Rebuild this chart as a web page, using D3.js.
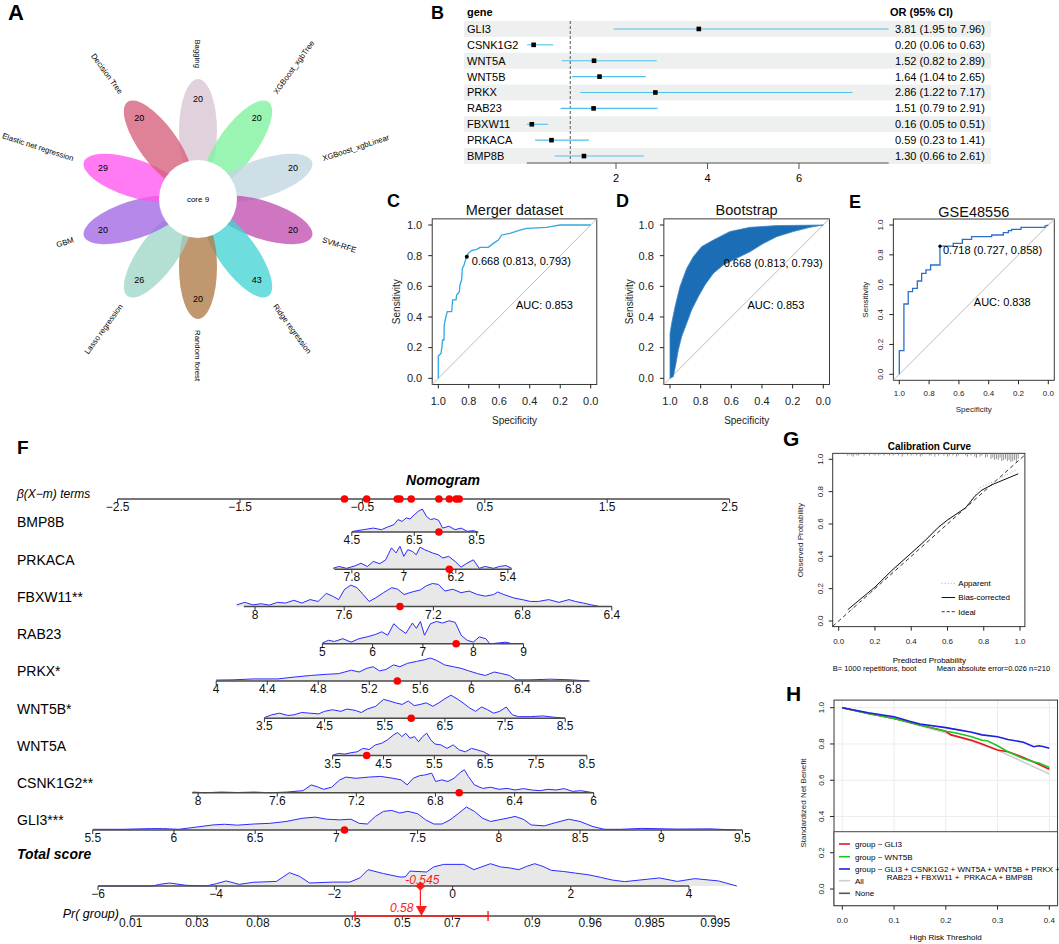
<!DOCTYPE html>
<html>
<head>
<meta charset="utf-8">
<script src="https://cdn.jsdelivr.net/npm/d3@7"></script>
<style>
  body { margin: 0; background: #fff; }
  svg text { font-family: "Liberation Sans", Arial, Helvetica, sans-serif; }
</style>
</head>
<body>
<script>
// ---------- data ----------
// A: flower plot
const flowerSets = ['Bagging', 'XGBoost_xgbTree', 'XGBoost_xgbLinear', 'SVM-RFE', 'Ridge regression',
  'Random forest', 'Lasso regression', 'GBM', 'Elastic net regression', 'Decision Tree'];
const flowerCounts = [20, 20, 20, 20, 43, 20, 26, 20, 29, 20];
const coreCount = 9;
const petalColors = ['#d8c4d4', '#7ef29e', '#c0d6e0', '#c24fb2', '#44d4d4', '#b07a48', '#9ed6c8', '#a266e4', '#ff55ef', '#d65f7a'];

// B: forest plot
const forestGenes = ['GLI3', 'CSNK1G2', 'WNT5A', 'WNT5B', 'PRKX', 'RAB23', 'FBXW11', 'PRKACA', 'BMP8B'];
const forestOR = [3.81, 0.20, 1.52, 1.64, 2.86, 1.51, 0.16, 0.59, 1.30];
const forestLo = [1.95, 0.06, 0.82, 1.04, 1.22, 0.79, 0.05, 0.23, 0.66];
const forestHi = [7.96, 0.63, 2.89, 2.65, 7.17, 2.91, 0.51, 1.41, 2.61];
const forestTicks = [2, 4, 6];

// C/D/E: ROC curves (specificity, sensitivity)
const rocTicks = [0, 0.2, 0.4, 0.6, 0.8, 1];
const mergerRoc = [[1, 0], [1, 0.146], [0.982, 0.163], [0.976, 0.207], [0.972, 0.25], [0.963, 0.25],
  [0.961, 0.348], [0.95, 0.402], [0.941, 0.435], [0.912, 0.435], [0.906, 0.511], [0.884, 0.511],
  [0.88, 0.543], [0.862, 0.565], [0.858, 0.609], [0.847, 0.641], [0.842, 0.717], [0.831, 0.739],
  [0.825, 0.761], [0.813, 0.793], [0.803, 0.815], [0.781, 0.833], [0.748, 0.841], [0.726, 0.854],
  [0.672, 0.854], [0.639, 0.88], [0.606, 0.902], [0.584, 0.935], [0.53, 0.946], [0.464, 0.967],
  [0.42, 0.978], [0.289, 0.985], [0.245, 0.993], [0.201, 1], [0, 1]];
const mergerBest = [0.813, 0.793];
const bootUpper = [[1, 0.29], [0.989, 0.359], [0.967, 0.467], [0.935, 0.598], [0.891, 0.717], [0.848, 0.793],
  [0.793, 0.859], [0.717, 0.902], [0.609, 0.957], [0.478, 0.985], [0.304, 0.996], [0, 1]];
const bootLower = [[1, 0], [0.978, 0.011], [0.961, 0.098], [0.946, 0.185], [0.924, 0.272], [0.891, 0.359],
  [0.859, 0.446], [0.815, 0.533], [0.772, 0.609], [0.717, 0.685], [0.652, 0.739], [0.565, 0.783],
  [0.478, 0.826], [0.391, 0.88], [0.304, 0.924], [0.196, 0.957], [0.087, 0.985], [0, 1]];
const gseRoc = [[1, 0], [1, 0.158], [0.969, 0.158], [0.969, 0.471], [0.94, 0.471], [0.94, 0.554],
  [0.911, 0.554], [0.911, 0.576], [0.879, 0.576], [0.879, 0.625], [0.85, 0.625], [0.85, 0.676],
  [0.821, 0.676], [0.821, 0.699], [0.79, 0.699], [0.79, 0.732], [0.727, 0.732], [0.727, 0.858],
  [0.638, 0.858], [0.638, 0.877], [0.577, 0.877], [0.577, 0.904], [0.515, 0.904], [0.515, 0.922],
  [0.38, 0.922], [0.38, 0.933], [0.302, 0.933], [0.302, 0.949], [0.268, 0.949], [0.268, 0.962],
  [0.246, 0.962], [0.246, 0.971], [0.183, 0.971], [0.183, 0.984], [0.022, 0.984], [0.022, 0.993], [0, 1]];
const gseBest = [0.727, 0.858];

// F: nomogram
const nomoGenes = ['BMP8B', 'PRKACA', 'FBXW11**', 'RAB23', 'PRKX*', 'WNT5B*', 'WNT5A', 'CSNK1G2**', 'GLI3***'];
const nomoBeta = [0.255, -0.531, -1.822, 0.411, 1.042, 0.4915, 0.4155, -1.616, 1.327];
const nomoMean = [6.80, 6.696, 7.244, 7.013, 5.626, 6.146, 5.289, 6.86, 7.537];
const nomoRange = [[4.5, 8.55], [8.07, 5.34], [8.05, 6.4], [5, 9], [4, 6.92], [3.5, 8.5], [3.5, 8.5], [8.03, 6], [5.5, 9.5]];
const nomoTicks = [[4.5, 6.5, 8.5], [7.8, 7, 6.2, 5.4], [8, 7.6, 7.2, 6.8, 6.4], [5, 6, 7, 8, 9],
  [4, 4.4, 4.8, 5.2, 5.6, 6, 6.4, 6.8], [3.5, 4.5, 5.5, 6.5, 7.5, 8.5], [3.5, 4.5, 5.5, 6.5, 7.5, 8.5],
  [8, 7.6, 7.2, 6.8, 6.4, 6], [5.5, 6, 6.5, 7, 7.5, 8, 8.5, 9, 9.5]];
const nomoPatient = [7.29, 6.30, 7.35, 7.66, 5.42, 5.94, 4.17, 6.68, 7.05];
const betaTicks = [-2.5, -1.5, -0.5, 0.5, 1.5, 2.5];
const nomoDensity = [
  [[4.5, 0], [4.54, .03], [4.87, .1], [5.19, .17], [5.45, .1], [5.65, .22], [5.85, .32], [5.98, .54], [6.11, .46],
   [6.24, .61], [6.37, .57], [6.5, .75], [6.63, .9], [6.76, 1], [6.89, .68], [7.02, .54], [7.15, .58], [7.28, .51],
   [7.41, .17], [7.61, .25], [7.81, .1], [8.0, .17], [8.2, .03], [8.4, .06], [8.53, 0]],
  [[8.09, .04], [8.0, .12], [7.88, .04], [7.75, .15], [7.66, .26], [7.56, .12], [7.47, .34], [7.37, .24], [7.28, .41],
   [7.19, .93], [7.12, .71], [7.06, 1], [7.0, .56], [6.94, .85], [6.87, .78], [6.81, .63], [6.75, .96], [6.68, .85],
   [6.62, .78], [6.56, .71], [6.47, .63], [6.4, .49], [6.31, .56], [6.21, .34], [6.12, .09], [6.03, .26], [5.93, .41],
   [5.84, .04], [5.75, .12], [5.62, .04], [5.53, .12], [5.43, .16], [5.34, .04]],
  [[8.082, .07], [8.046, .18], [8.009, .07], [7.973, .12], [7.936, .06], [7.899, .18], [7.863, .15], [7.826, .27],
   [7.79, .15], [7.753, .3], [7.717, .22], [7.68, .57], [7.652, .45], [7.625, .3], [7.598, .75], [7.57, .93],
   [7.543, .82], [7.515, .52], [7.488, .22], [7.46, .37], [7.424, .6], [7.387, .82], [7.36, .75], [7.332, .52],
   [7.296, .63], [7.259, .72], [7.232, .9], [7.204, 1], [7.177, .96], [7.149, .67], [7.113, .75], [7.076, .6],
   [7.04, .67], [7.003, .52], [6.967, .45], [6.93, .52], [6.912, .63], [6.884, .52], [6.839, .37], [6.802, .3],
   [6.765, .22], [6.729, .22], [6.683, .3], [6.637, .18], [6.592, .3], [6.564, .22], [6.528, .15], [6.491, .07], [6.455, 0]],
  [[5.0, .03], [5.12, .15], [5.24, .1], [5.41, .22], [5.57, .07], [5.73, .22], [5.89, .3], [6.05, .4], [6.18, .52],
   [6.3, .37], [6.42, .87], [6.54, .63], [6.66, .45], [6.79, .9], [6.87, .67], [6.95, .97], [7.03, .37], [7.15, .87],
   [7.27, .97], [7.39, .9], [7.52, 1], [7.64, .93], [7.76, .37], [7.88, .15], [8.0, .07], [8.12, .3], [8.25, .22],
   [8.33, 0], [8.49, .03], [8.65, .07], [8.77, 0]],
  [[4.0, .04], [4.13, .05], [4.29, .09], [4.48, .09], [4.61, .17], [4.74, .24], [4.86, .29], [4.96, .32], [5.06, .47],
   [5.12, .39], [5.18, .55], [5.23, .62], [5.28, .44], [5.33, .5], [5.39, .7], [5.44, .62], [5.5, .77], [5.57, .85],
   [5.63, .92], [5.68, 1], [5.73, .89], [5.79, .7], [5.86, .62], [5.92, .55], [5.98, .44], [6.05, .32], [6.11, .24],
   [6.18, .39], [6.24, .32], [6.3, .24], [6.35, .05], [6.46, .05], [6.62, .08], [6.78, .05], [6.93, 0]],
  [[3.5, .03], [3.62, .15], [3.75, .22], [3.89, .12], [3.99, .15], [4.12, .25], [4.26, .22], [4.4, .19], [4.5, .3],
   [4.63, .37], [4.77, .3], [4.87, .4], [5.01, .34], [5.11, .25], [5.21, .4], [5.35, .52], [5.48, .82], [5.58, .75],
   [5.68, .67], [5.79, .6], [5.89, .75], [5.99, .55], [6.09, .6], [6.19, .67], [6.3, .52], [6.4, .67], [6.5, .85],
   [6.6, 1], [6.7, .85], [6.8, .67], [6.91, .45], [7.01, .3], [7.11, .49], [7.21, .37], [7.31, .22], [7.41, .3],
   [7.52, .49], [7.62, .15], [7.72, .07], [7.92, .07], [8.13, .1], [8.33, .04], [8.5, 0]],
  [[3.5, .01], [3.62, .09], [3.74, .06], [3.86, .12], [3.98, .16], [4.1, .31], [4.22, .26], [4.34, .46], [4.46, .53],
   [4.58, .68], [4.7, .9], [4.78, 1], [4.86, .82], [4.94, .97], [5.02, .75], [5.11, .82], [5.19, .6], [5.27, .82],
   [5.35, .97], [5.43, .68], [5.51, .5], [5.63, .46], [5.75, .31], [5.87, .46], [5.99, .24], [6.11, .16], [6.23, .31],
   [6.35, .24], [6.47, .16], [6.59, .01]],
  [[8.027, .03], [7.965, 0], [7.882, .03], [7.8, .01], [7.717, .03], [7.635, 0], [7.552, .03], [7.47, .09],
   [7.428, .34], [7.397, .26], [7.366, .15], [7.325, .24], [7.284, .56], [7.253, .68], [7.201, .63], [7.139, .68],
   [7.077, .71], [7.015, .63], [6.974, .56], [6.943, .34], [6.912, .63], [6.881, .74], [6.85, .78], [6.819, .85],
   [6.799, .49], [6.768, .56], [6.737, .49], [6.706, .63], [6.675, .88], [6.654, 1], [6.634, .71], [6.603, .34],
   [6.561, .19], [6.52, .24], [6.479, .15], [6.438, .19], [6.396, .12], [6.355, .18], [6.314, .12], [6.272, .09],
   [6.231, .15], [6.19, .12], [6.149, .18], [6.107, .06], [6.066, .09], [6.0, 0]],
  [[5.5, .03], [5.68, .03], [5.86, .06], [5.93, .06], [6.03, .03], [6.13, .12], [6.24, .22], [6.31, .25], [6.39, .21],
   [6.49, .26], [6.59, .29], [6.69, .37], [6.79, .51], [6.87, .56], [6.94, .47], [7.02, .44], [7.09, .47], [7.14, .29],
   [7.19, .26], [7.24, .59], [7.29, .81], [7.34, .85], [7.39, .74], [7.44, .81], [7.5, .71], [7.55, .44], [7.6, .26],
   [7.65, .26], [7.7, .44], [7.75, .71], [7.8, 1], [7.85, .81], [7.9, .51], [7.95, .37], [8.0, .44], [8.05, .51],
   [8.1, .59], [8.15, .47], [8.2, .22], [8.28, .18], [8.35, .32], [8.43, .47], [8.5, .37], [8.58, .15], [8.65, .03],
   [8.75, .03], [8.88, .07], [9.1, .04], [9.3, .05], [9.46, 0]]
];
const totalTicks = [-6, -4, -2, 0, 2, 4];
const totalDensity = [[-6, 0], [-5.08, 0], [-4.96, .07], [-4.79, .13], [-4.51, .03], [-4.17, 0], [-4.0, .1],
  [-3.83, .22], [-3.61, .07], [-3.38, .16], [-2.98, .2], [-2.76, .58], [-2.59, .42], [-2.42, .13], [-2.02, .17],
  [-1.74, .17], [-1.57, .35], [-1.43, .71], [-1.17, .54], [-0.89, .39], [-0.8, .4], [-0.72, .65], [-0.44, .61],
  [-0.32, .83], [-0.15, .94], [0.19, .94], [0.36, .71], [0.64, .97], [0.81, .83], [0.98, .78], [1.12, .71],
  [1.25, .85], [1.39, .97], [1.53, .85], [1.67, .68], [1.88, .63], [2.08, .56], [2.29, .49], [2.5, .38],
  [2.7, .26], [2.91, .19], [3.17, .26], [3.5, .35], [3.8, .2], [4.1, .32], [4.5, .22], [4.81, 0]];
const totalScore = -0.545;
const prOffset = 0.85;
const prTicks = [0.01, 0.03, 0.08, 0.3, 0.5, 0.7, 0.9, 0.96, 0.985, 0.995];
const prValue = 0.58;
const prCI = [0.31, 0.81];

// G: calibration
const calTicks = [0, 0.2, 0.4, 0.6, 0.8, 1];
const calApparent = [[0.05, 0.05], [0.2, 0.2], [0.3, 0.31], [0.4, 0.42], [0.5, 0.53], [0.6, 0.62], [0.7, 0.70],
  [0.78, 0.825], [0.85, 0.86], [0.99, 0.94]];
const calBias = [[0.05, 0.07], [0.2, 0.21], [0.3, 0.32], [0.4, 0.42], [0.47, 0.49], [0.55, 0.58], [0.6, 0.625],
  [0.7, 0.70], [0.75, 0.77], [0.79, 0.81], [0.85, 0.845], [0.99, 0.91]];
const calRug = [[0.05, 2], [0.06, 1], [0.07, 2], [0.08, 3], [0.09, 1], [0.10, 2], [0.11, 2], [0.12, 1], [0.14, 2],
  [0.15, 1], [0.17, 2], [0.19, 1], [0.20, 2], [0.22, 2], [0.23, 1], [0.25, 2], [0.27, 1], [0.28, 2], [0.30, 2],
  [0.31, 1], [0.33, 2], [0.35, 3], [0.36, 1], [0.38, 2], [0.40, 2], [0.41, 1], [0.43, 2], [0.45, 3], [0.46, 2],
  [0.48, 1], [0.50, 2], [0.51, 2], [0.53, 3], [0.55, 2], [0.56, 1], [0.58, 2], [0.60, 3], [0.61, 2], [0.63, 2],
  [0.65, 3], [0.66, 2], [0.68, 1], [0.70, 2], [0.71, 3], [0.73, 2], [0.75, 3], [0.76, 4], [0.78, 3], [0.79, 2],
  [0.81, 4], [0.82, 3], [0.84, 5], [0.85, 4], [0.86, 6], [0.87, 5], [0.88, 6], [0.89, 4], [0.90, 7], [0.91, 6],
  [0.92, 5], [0.93, 7], [0.94, 6], [0.95, 8], [0.96, 7], [0.97, 6], [0.98, 8], [0.99, 5]];

// H: decision curves
const dcaTicksX = [0, 0.1, 0.2, 0.3, 0.4];
const dcaTicksY = [0, 0.2, 0.4, 0.6, 0.8, 1];
const dcaGli3 = [[0, 1], [0.05, 0.968], [0.1, 0.94], [0.15, 0.905], [0.2, 0.87], [0.21, 0.85], [0.25, 0.82],
  [0.27, 0.80], [0.3, 0.767], [0.32, 0.757], [0.35, 0.726], [0.37, 0.70], [0.4, 0.66]];
const dcaWnt5b = [[0, 1], [0.05, 0.968], [0.1, 0.94], [0.15, 0.905], [0.2, 0.87], [0.22, 0.86], [0.25, 0.84],
  [0.27, 0.82], [0.28, 0.818], [0.3, 0.79], [0.32, 0.757], [0.35, 0.72], [0.37, 0.70], [0.38, 0.695], [0.4, 0.67]];
const dcaFull = [[0, 1], [0.05, 0.972], [0.1, 0.95], [0.13, 0.925], [0.15, 0.91], [0.2, 0.89], [0.23, 0.875],
  [0.25, 0.865], [0.27, 0.85], [0.3, 0.84], [0.32, 0.825], [0.35, 0.81], [0.37, 0.785], [0.38, 0.79],
  [0.39, 0.785], [0.4, 0.776]];
const dcaAll = [[0, 1], [0.05, 0.97], [0.1, 0.94], [0.15, 0.90], [0.2, 0.86], [0.25, 0.815], [0.3, 0.765],
  [0.35, 0.70], [0.4, 0.634]];
const dcaNone = [[0, 0], [0.4, 0]];

// ---------- drawing ----------
const svg = d3.select('body').append('svg').attr('width', 1059).attr('height', 944);

function panelLabel(t, x, y, size) {
  svg.append('text').attr('x', x).attr('y', y).attr('font-size', size).attr('font-weight', 'bold').text(t);
}

function drawFlower() {
  const g = svg.append('g').attr('transform', 'translate(198,199)');
  const angle = d3.scaleLinear().domain([0, flowerSets.length]).range([-90, 270]);
  const rad = a => a * Math.PI / 180;

  g.selectAll('ellipse').data(flowerSets).join('ellipse')
    .attr('cx', 68).attr('cy', 0).attr('rx', 52).attr('ry', 19)
    .attr('transform', (d, i) => `rotate(${angle(i)})`)
    .attr('fill', (d, i) => petalColors[i]).attr('fill-opacity', 0.78);

  g.append('circle').attr('r', 39).attr('fill', '#fff');
  g.append('text').attr('text-anchor', 'middle').attr('dy', '0.35em').attr('font-size', 8).text(`core ${coreCount}`);

  g.selectAll('text.count').data(flowerCounts).join('text').attr('class', 'count')
    .attr('x', (d, i) => 100 * Math.cos(rad(angle(i))))
    .attr('y', (d, i) => 100 * Math.sin(rad(angle(i))))
    .attr('dy', '0.35em').attr('text-anchor', 'middle').attr('font-size', 9).text(d => d);

  g.selectAll('text.set').data(flowerSets).join('text').attr('class', 'set')
    .attr('font-size', 7.8).attr('dy', '0.35em')
    .each(function (d, i) {
      const a = angle(i);
      const outward = Math.abs(a - 90) < 1e-6 || Math.cos(rad(a)) > 1e-6;
      d3.select(this)
        .attr('text-anchor', outward ? 'start' : 'end')
        .attr('transform', `rotate(${a}) translate(131,0)` + (outward ? '' : ' rotate(180)'));
    })
    .text(d => d);
}

function drawForest() {
  const g = svg.append('g');
  const y = d3.scaleBand().domain(forestGenes).range([21, 164]);
  const x = d3.scaleLinear().domain([0, 8]).range([524.5, 890.5]);
  const mid = d => y(d) + y.bandwidth() / 2;

  g.selectAll('rect.band').data(forestGenes.filter((d, i) => i % 2 === 0)).join('rect')
    .attr('x', 464).attr('width', 527).attr('y', d => y(d)).attr('height', y.bandwidth()).attr('fill', '#edf0ef');

  g.append('text').attr('x', 467).attr('y', 16).attr('font-size', 11).attr('font-weight', 'bold').text('gene');
  g.append('text').attr('x', 890).attr('y', 16).attr('font-size', 11).attr('font-weight', 'bold').text('OR (95% CI)');

  g.append('line').attr('x1', x(1)).attr('x2', x(1)).attr('y1', 21).attr('y2', 163)
    .attr('stroke', '#555').attr('stroke-dasharray', '3,2');

  g.selectAll('line.ci').data(forestGenes).join('line')
    .attr('x1', (d, i) => x(forestLo[i])).attr('x2', (d, i) => x(forestHi[i]))
    .attr('y1', mid).attr('y2', mid).attr('stroke', '#4fbfee').attr('stroke-width', 1.1);
  g.selectAll('rect.pt').data(forestGenes).join('rect')
    .attr('x', (d, i) => x(forestOR[i]) - 2.3).attr('y', d => mid(d) - 2.3)
    .attr('width', 4.6).attr('height', 4.6).attr('fill', '#000');

  g.selectAll('text.gene').data(forestGenes).join('text')
    .attr('x', 467).attr('y', mid).attr('dy', '0.36em').attr('font-size', 11).text(d => d);
  const f2 = d3.format('.2f');
  g.selectAll('text.or').data(forestGenes).join('text')
    .attr('x', 895).attr('y', mid).attr('dy', '0.36em').attr('font-size', 11)
    .text((d, i) => `${f2(forestOR[i])} (${f2(forestLo[i])} to ${f2(forestHi[i])})`);

  g.append('line').attr('x1', x(d3.min(forestLo))).attr('x2', x(d3.max(forestHi)))
    .attr('y1', 163).attr('y2', 163).attr('stroke', '#555');
  g.selectAll('line.tk').data(forestTicks).join('line')
    .attr('x1', x).attr('x2', x).attr('y1', 163).attr('y2', 169).attr('stroke', '#555');
  g.selectAll('text.tk').data(forestTicks).join('text')
    .attr('x', x).attr('y', 182).attr('text-anchor', 'middle').attr('font-size', 11).text(d => d);
}

// base-R style frame with box and outward ticks
function rFrame(cfg) {
  const { x, y, xl, yl, g } = cfg;
  const bx0 = x(xl[0]), bx1 = x(xl[1]), by0 = y(yl[0]), by1 = y(yl[1]);
  g.append('rect').attr('x', Math.min(bx0, bx1)).attr('y', by1)
    .attr('width', Math.abs(bx1 - bx0)).attr('height', by0 - by1)
    .attr('fill', 'none').attr('stroke', '#222').attr('stroke-width', 0.9);
  const left = Math.min(bx0, bx1);
  g.selectAll('line.xt').data(cfg.xTicks).join('line')
    .attr('x1', x).attr('x2', x).attr('y1', by0).attr('y2', by0 + 4).attr('stroke', '#222');
  g.selectAll('text.xt').data(cfg.xTicks).join('text')
    .attr('x', x).attr('y', by0 + cfg.xOff).attr('text-anchor', 'middle')
    .attr('font-size', cfg.fs).attr('fill', '#222').text(cfg.fmt);
  g.selectAll('line.yt').data(cfg.yTicks).join('line')
    .attr('x1', left - 4).attr('x2', left).attr('y1', y).attr('y2', y).attr('stroke', '#222');
  const yt = g.selectAll('text.yt').data(cfg.yTicks).join('text')
    .attr('font-size', cfg.fs).attr('fill', '#222').text(cfg.fmt);
  if (cfg.rotY) {
    yt.attr('text-anchor', 'middle').attr('transform', d => `translate(${left - cfg.yOff},${y(d)}) rotate(-90)`);
  } else {
    yt.attr('text-anchor', 'end').attr('dy', '0.35em').attr('x', left - cfg.yOff).attr('y', y);
  }
  return left;
}

function vText(g, t, x, y, size) {
  g.append('text').attr('transform', `translate(${x},${y}) rotate(-90)`)
    .attr('text-anchor', 'middle').attr('font-size', size).attr('fill', '#222').text(t);
}

function drawRoc(cfg) {
  const g = svg.append('g');
  const x = d3.scaleLinear().domain([1, 0]).range(cfg.xr);
  const y = d3.scaleLinear().domain([0, 1]).range(cfg.yr);
  rFrame({ g, x, y, xl: [1.04, -0.04], yl: [-0.04, 1.04], xTicks: rocTicks, yTicks: rocTicks,
    fmt: d3.format('.1f'), fs: cfg.fs, xOff: cfg.xOff, yOff: cfg.yOff, rotY: cfg.rotY });
  g.append('line').attr('x1', x(1.04)).attr('y1', y(-0.04)).attr('x2', x(-0.04)).attr('y2', y(1.04))
    .attr('stroke', '#bdbdbd');
  g.append('text').attr('x', x(0.5)).attr('y', cfg.titleY).attr('text-anchor', 'middle')
    .attr('font-size', 14.5).attr('fill', '#111').text(cfg.title);
  g.append('text').attr('x', x(0.5)).attr('y', cfg.specY).attr('text-anchor', 'middle')
    .attr('font-size', cfg.labFs).attr('fill', '#222').text('Specificity');
  vText(g, 'Sensitivity', cfg.sensX, y(0.5), cfg.labFs);
  return { g, x, y };
}

function drawRocs() {
  const line = (x, y) => d3.line().x(d => x(d[0])).y(d => y(d[1]));

  // C
  let p = drawRoc({ xr: [438.3, 590.7], yr: [378.3, 225], fs: 11, xOff: 21, yOff: 10, title: 'Merger dataset',
    titleY: 215, specY: 424, labFs: 10, sensX: 399.5 });
  p.g.append('path').datum(mergerRoc).attr('d', line(p.x, p.y)).attr('fill', 'none')
    .attr('stroke', '#2fa8e2').attr('stroke-width', 1.3);
  p.g.append('circle').attr('cx', p.x(mergerBest[0])).attr('cy', p.y(mergerBest[1])).attr('r', 2).attr('fill', '#000');
  p.g.append('text').attr('x', p.x(mergerBest[0]) + 5).attr('y', p.y(mergerBest[1]) + 8.5).attr('font-size', 11)
    .text('0.668 (0.813, 0.793)');
  p.g.append('text').attr('x', p.x(0.49)).attr('y', p.y(0.45)).attr('font-size', 11).text('AUC: 0.853');

  // D
  p = drawRoc({ xr: [670, 823.3], yr: [378.3, 225], fs: 11, xOff: 21, yOff: 10, title: 'Bootstrap',
    titleY: 215, specY: 424, labFs: 10, sensX: 632.5 });
  const band = bootUpper.concat(bootLower.slice().reverse());
  const bandLine = line(p.x, p.y);
  p.g.append('path').datum(band).attr('d', d => bandLine(d) + 'Z').attr('fill', '#1b6db5')
    .attr('stroke', '#3b86c8').attr('stroke-width', 0.8);
  p.g.append('text').attr('x', p.x(mergerBest[0]) + 25).attr('y', p.y(mergerBest[1]) + 10).attr('font-size', 11)
    .text('0.668 (0.813, 0.793)');
  p.g.append('text').attr('x', p.x(0.495)).attr('y', p.y(0.45)).attr('font-size', 11).text('AUC: 0.853');

  // E
  p = drawRoc({ xr: [899.3, 1048.3], yr: [374.3, 225], fs: 8, xOff: 16, yOff: 10.5, rotY: true, title: 'GSE48556',
    titleY: 217, specY: 412, labFs: 8, sensX: 867.8 });
  p.g.append('path').datum(gseRoc).attr('d', line(p.x, p.y)).attr('fill', 'none')
    .attr('stroke', '#2b6fca').attr('stroke-width', 1.3);
  p.g.append('circle').attr('cx', p.x(gseBest[0])).attr('cy', p.y(gseBest[1])).attr('r', 1.6).attr('fill', '#000');
  p.g.append('text').attr('x', p.x(gseBest[0]) + 3).attr('y', p.y(gseBest[1]) + 8).attr('font-size', 11)
    .text('0.718 (0.727, 0.858)');
  p.g.append('text').attr('x', p.x(0.5)).attr('y', p.y(0.46)).attr('font-size', 11).text('AUC: 0.838');
}

function nomoAxis(g, scale, yAxis, ticks, fmt, from, to, labOff = 12) {
  g.append('line').attr('x1', scale(from)).attr('x2', scale(to)).attr('y1', yAxis).attr('y2', yAxis)
    .attr('stroke', '#4a4a4a').attr('stroke-width', 1.6);
  g.selectAll(null).data(ticks).join('line')
    .attr('x1', scale).attr('x2', scale).attr('y1', yAxis).attr('y2', yAxis + 4).attr('stroke', '#333');
  g.selectAll(null).data(ticks).join('text')
    .attr('x', scale).attr('y', yAxis + labOff).attr('text-anchor', 'middle').attr('font-size', 12)
    .attr('fill', '#111').text(fmt);
}

function density(g, scale, yAxis, pts) {
  const area = d3.area().x(d => scale(d[0])).y0(yAxis).y1(d => yAxis - d[1] * 23);
  const ln = d3.line().x(d => scale(d[0])).y(d => yAxis - d[1] * 23);
  g.append('path').datum(pts).attr('d', area).attr('fill', '#e8e8e8');
  g.append('path').datum(pts).attr('d', ln).attr('fill', 'none').attr('stroke', '#2b2bff').attr('stroke-width', 1);
}

function drawNomogram() {
  const g = svg.append('g');
  const xBeta = d3.scaleLinear().domain([-2.5, 2.5]).range([117.6, 729.6]);
  const xTot = d3.scaleLinear().domain([-6, 4]).range([98, 689]);
  const rowY = d3.scaleLinear().domain([0, 8]).range([532, 830]);
  const betaY = 499, totY = 886, prY = 916;
  const logit = p => Math.log(p / (1 - p));
  const xPr = p => xTot(logit(p) - prOffset);

  g.append('text').attr('x', 443).attr('y', 485).attr('text-anchor', 'middle').attr('font-size', 14)
    .attr('font-weight', 'bold').attr('font-style', 'italic').text('Nomogram');
  g.append('text').attr('x', 17).attr('y', 494).attr('dy', '0.35em').attr('font-size', 12)
    .attr('font-style', 'italic').text('β(X−m) terms');
  nomoAxis(g, xBeta, betaY, betaTicks, d3.format('.1f'), -2.5, 2.5);

  nomoGenes.forEach((name, i) => {
    const s = d3.scaleLinear().domain([nomoMean[i], nomoMean[i] + 1]).range([xBeta(0), xBeta(nomoBeta[i])]);
    const yA = rowY(i);
    g.append('text').attr('x', 17).attr('y', yA - 9.5).attr('dy', '0.35em').attr('font-size', 14).text(name);
    density(g, s, yA, nomoDensity[i]);
    nomoAxis(g, s, yA, nomoTicks[i], d => String(d), nomoRange[i][0], nomoRange[i][1]);
    g.append('circle').attr('cx', s(nomoPatient[i])).attr('cy', yA).attr('r', 3.8).attr('fill', '#ff0000');
    g.append('circle').attr('cx', xBeta(nomoBeta[i] * (nomoPatient[i] - nomoMean[i]))).attr('cy', betaY)
      .attr('r', 3.8).attr('fill', '#ff0000');
  });

  g.append('text').attr('x', 17).attr('y', 859).attr('font-size', 14).attr('font-weight', 'bold')
    .attr('font-style', 'italic').text('Total score');
  density(g, xTot, totY, totalDensity);
  nomoAxis(g, xTot, totY, totalTicks, d3.format('d'), -6, 4);

  g.append('text').attr('x', 119).attr('y', 918).attr('text-anchor', 'end').attr('font-size', 12.5)
    .attr('font-style', 'italic').text('Pr( group)');
  nomoAxis(g, xPr, prY, prTicks, d => String(d), prTicks[0], prTicks[prTicks.length - 1], 10.5);

  // patient marks
  const red = '#ff1a1a';
  const xs = xTot(totalScore);
  g.append('line').attr('x1', xs).attr('x2', xs).attr('y1', totY).attr('y2', prY - 8).attr('stroke', red).attr('stroke-width', 1.2);
  g.append('path').attr('d', `M${xs},${totY - 4.5}L${xs + 5},${totY}L${xs},${totY + 4.5}L${xs - 5},${totY}Z`).attr('fill', red);
  g.append('text').attr('x', xs + 2).attr('y', totY - 2.5).attr('text-anchor', 'middle').attr('font-size', 12)
    .attr('font-style', 'italic').attr('fill', red).text(String(totalScore));
  const xp = xPr(prValue);
  g.append('line').attr('x1', xPr(prCI[0])).attr('x2', xPr(prCI[1])).attr('y1', prY).attr('y2', prY)
    .attr('stroke', red).attr('stroke-width', 1.4);
  g.selectAll(null).data(prCI).join('line').attr('x1', xPr).attr('x2', xPr)
    .attr('y1', prY - 5).attr('y2', prY + 5).attr('stroke', red).attr('stroke-width', 1.4);
  g.append('path').attr('d', `M${xp - 5.5},${prY - 10}L${xp + 5.5},${prY - 10}L${xp},${prY}Z`).attr('fill', red);
  g.append('text').attr('x', xp - 8).attr('y', prY - 4).attr('text-anchor', 'end').attr('font-size', 12)
    .attr('font-style', 'italic').attr('fill', red).text(String(prValue));
}

function drawCalibration() {
  const g = svg.append('g');
  const x = d3.scaleLinear().domain([0, 1]).range([838.7, 1020]);
  const y = d3.scaleLinear().domain([0, 1]).range([621, 459.3]);
  rFrame({ g, x, y, xl: [-0.033, 1.027], yl: [-0.035, 1.037], xTicks: calTicks, yTicks: calTicks,
    fmt: d3.format('.1f'), fs: 8, xOff: 17, yOff: 10, rotY: true });
  g.selectAll('line.rug').data(calRug).join('line')
    .attr('x1', d => x(d[0])).attr('x2', d => x(d[0]))
    .attr('y1', y(1.037)).attr('y2', d => y(1.037) + d[1] * 1.1).attr('stroke', '#777').attr('stroke-width', 0.8);
  const ln = d3.line().x(d => x(d[0])).y(d => y(d[1]));
  g.append('path').datum([[-0.033, -0.033], [1.027, 1.027]]).attr('d', ln).attr('stroke', '#333')
    .attr('stroke-dasharray', '4,3').attr('fill', 'none');
  g.append('path').datum(calApparent).attr('d', ln).attr('stroke', '#aaa').attr('stroke-dasharray', '1,2').attr('fill', 'none');
  g.append('path').datum(calBias).attr('d', ln).attr('stroke', '#111').attr('fill', 'none');

  g.append('text').attr('x', x(0.5)).attr('y', 450).attr('text-anchor', 'middle').attr('font-size', 10)
    .attr('font-weight', 'bold').text('Calibration Curve');
  g.append('text').attr('x', x(0.5)).attr('y', 663).attr('text-anchor', 'middle').attr('font-size', 8).text('Predicted Probability');
  vText(g, 'Observed Probability', 802.8, y(0.5), 8);
  g.append('text').attr('x', 832.7).attr('y', 671).attr('font-size', 7.5).text('B= 1000 repetitions, boot');
  g.append('text').attr('x', 936.7).attr('y', 671).attr('font-size', 7.5).text('Mean absolute error=0.026 n=210');

  const leg = [['Apparent', '#aaa', '1,2'], ['Bias-corrected', '#111', null], ['Ideal', '#333', '3,2']];
  leg.forEach((d, i) => {
    const ly = 583.3 + i * 14.2;
    g.append('line').attr('x1', 941.7).attr('x2', 955).attr('y1', ly).attr('y2', ly).attr('stroke', d[1])
      .attr('stroke-dasharray', d[2]);
    g.append('text').attr('x', 958.3).attr('y', ly).attr('dy', '0.35em').attr('font-size', 8).text(d[0]);
  });
}

function drawDca() {
  const g = svg.append('g');
  const x = d3.scaleLinear().domain([0, 0.4]).range([842.3, 1049.3]);
  const y = d3.scaleLinear().domain([0, 1]).range([889, 707.7]);
  g.selectAll('line.gx').data(dcaTicksX).join('line').attr('x1', x).attr('x2', x)
    .attr('y1', y(1.042)).attr('y2', y(-0.092)).attr('stroke', '#ececec');
  g.selectAll('line.gy').data(dcaTicksY).join('line').attr('y1', y).attr('y2', y)
    .attr('x1', x(-0.016)).attr('x2', x(0.416)).attr('stroke', '#ececec');
  rFrame({ g, x, y, xl: [-0.016, 0.416], yl: [-0.092, 1.042], xTicks: dcaTicksX, yTicks: dcaTicksY,
    fmt: d3.format('.1f'), fs: 8, xOff: 17, yOff: 10.5, rotY: true });

  const ln = d3.line().x(d => x(d[0])).y(d => y(d[1]));
  const series = [
    [dcaAll, '#cfcfcf', 'All'],
    [dcaNone, '#555', 'None'],
    [dcaGli3, '#e8161b', 'group ~ GLI3'],
    [dcaWnt5b, '#1fc41f', 'group ~ WNT5B'],
    [dcaFull, '#1f1fe0', 'group ~ GLI3 + CSNK1G2 + WNT5A + WNT5B + PRKX +']
  ];
  series.forEach(s => g.append('path').datum(s[0]).attr('d', ln).attr('fill', 'none')
    .attr('stroke', s[1]).attr('stroke-width', 1.6));

  // legend
  g.append('rect').attr('x', x(-0.016)).attr('y', y(0.316)).attr('width', x(0.416) - x(-0.016))
    .attr('height', y(-0.092) - y(0.316)).attr('fill', '#fff').attr('stroke', '#444');
  const legRows = [[series[2], 844], [series[3], 856.7], [series[4], 869], [series[0], 880.7], [series[1], 893.3]];
  legRows.forEach(([s, ly]) => {
    g.append('line').attr('x1', 839).attr('x2', 850).attr('y1', ly).attr('y2', ly)
      .attr('stroke', s[1]).attr('stroke-width', 1.6);
    g.append('text').attr('x', 855).attr('y', ly).attr('dy', '0.35em').attr('font-size', 8).text(s[2]);
  });
  g.append('text').attr('x', 886.7).attr('y', 877.3).attr('dy', '0.35em').attr('font-size', 8)
    .style('white-space', 'pre').text('RAB23 + FBXW11 +  PRKACA + BMP8B');

  g.append('text').attr('x', x(0.2)).attr('y', 939.5).attr('text-anchor', 'middle').attr('font-size', 8).text('High Risk Threshold');
  vText(g, 'Standardized Net Benefit', 805.5, 803, 8);
}

panelLabel('A', 8, 20, 22);
panelLabel('B', 431, 19, 18);
panelLabel('C', 387, 207, 18);
panelLabel('D', 616, 207, 18);
panelLabel('E', 849, 208, 18);
panelLabel('F', 17, 454, 19);
panelLabel('G', 783, 446, 21);
panelLabel('H', 786, 701, 21);

drawFlower();
drawForest();
drawRocs();
drawNomogram();
drawCalibration();
drawDca();
</script>
</body>
</html>
